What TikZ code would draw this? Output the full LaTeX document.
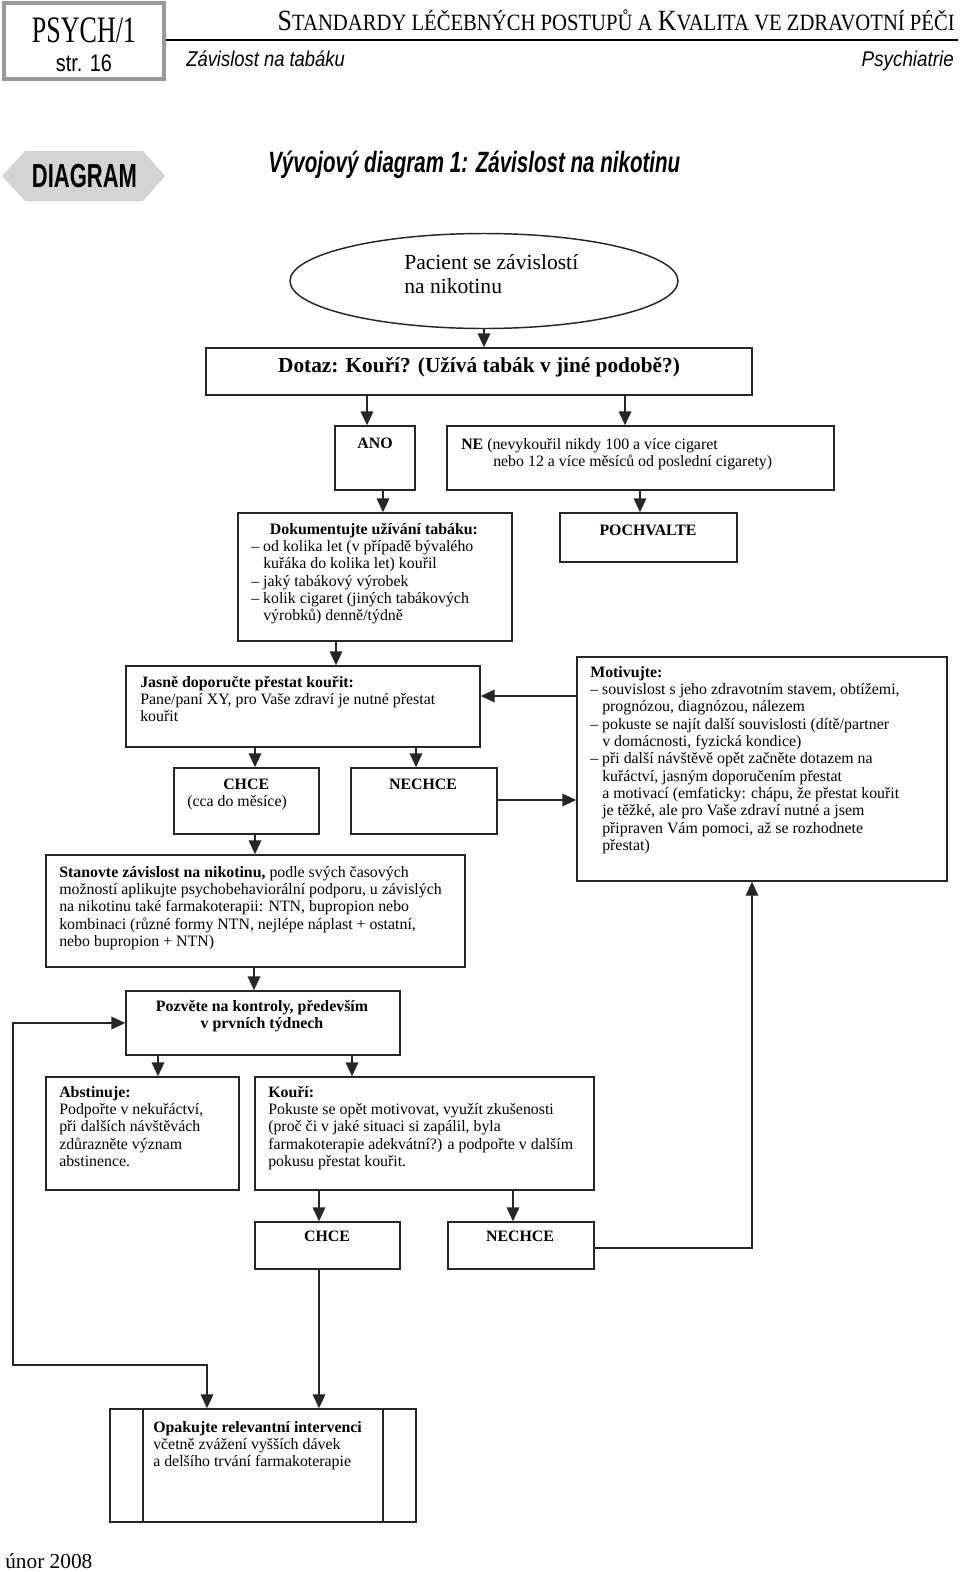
\documentclass[tikz,border=0pt]{standalone}
\usepackage{fontspec}
\usepackage{graphicx}
\setmainfont{Liberation Serif}
\newfontfamily\hsans{Liberation Sans}
\usetikzlibrary{arrows.meta,fit,shapes.geometric}
\newcommand\mylines[1]{\begin{tabular}[t]{@{}l@{}}#1\end{tabular}}
\newcommand\mylinesc[1]{\begin{tabular}[t]{@{}c@{}}#1\end{tabular}}
\newcommand\ind{\hspace*{9pt}}
\tikzset{
  box/.style={draw=black!85, line width=1.1pt, inner sep=0pt, rectangle},
  arr/.style={draw=black!85, line width=1.1pt, -{Triangle[length=10.5pt,width=9.5pt]}},
  arrboth/.style={draw=black!85, line width=1.1pt, {Triangle[length=10.5pt,width=9.5pt]}-{Triangle[length=10.5pt,width=9.5pt]}},
  txt/.style={inner sep=0pt, anchor=base west, font=\fontsize{11.9}{13}\selectfont},
  txtc/.style={inner sep=0pt, anchor=base, font=\fontsize{11.9}{13}\selectfont\bfseries},
}
\begin{document}
\begin{tikzpicture}[x=0.75pt,y=-0.75pt]
\useasboundingbox (0,0) rectangle (960,1572);
% ---------- header ----------
\node[draw=black!40, line width=2.4pt, inner sep=0pt, fit={(4,3) (164,79)}] (hdr) {};
\node[inner sep=0pt, anchor=base, font=\fontsize{28}{28}\selectfont] (psych) at (84,42) {\resizebox{78pt}{\height}{PSYCH/1}};
\node[inner sep=0pt, anchor=base, font=\hsans\fontsize{18}{18}\selectfont] (str) at (84,71) {\resizebox{42pt}{\height}{str. 16}};
\draw[black, line width=1.8pt] (166,40) -- (958,40);
\node[inner sep=0pt, anchor=base east] (htitle) at (955,30) {\resizebox{507.75pt}{\height}{{\fontsize{22}{22}\selectfont S}{\fontsize{17.5}{18}\selectfont TANDARDY LÉČEBNÝCH POSTUPŮ A }{\fontsize{22}{22}\selectfont K}{\fontsize{17.5}{18}\selectfont VALITA VE ZDRAVOTNÍ PÉČI}}};
\node[inner sep=0pt, anchor=base west, font=\hsans\itshape\fontsize{16}{16}\selectfont] (hsub) at (186,66) {\resizebox{119pt}{\height}{Závislost na tabáku}};
\node[inner sep=0pt, anchor=base east, font=\hsans\itshape\fontsize{16}{16}\selectfont] (hpsy) at (954,66) {\resizebox{69pt}{\height}{Psychiatrie}};
% DIAGRAM tag
\fill[black!17] (2,176) -- (25,151) -- (143,151) -- (165,176) -- (143,201) -- (25,201) -- cycle;
\node[inner sep=0pt, anchor=base, font=\hsans\bfseries\fontsize{25}{25}\selectfont] (diag) at (84.5,187) {\resizebox{78.75pt}{\height}{DIAGRAM}};
\node[inner sep=0pt, anchor=base west, font=\hsans\bfseries\itshape\fontsize{22}{22}\selectfont] (title) at (268,172) {\resizebox{309pt}{\height}{Vývojový diagram 1: Závislost na nikotinu}};
% ---------- column / row coordinates ----------
\coordinate (x13) at (13,0);
\coordinate (x158) at (158,0);
\coordinate (x207) at (207,0);
\coordinate (x254) at (254,0);
\coordinate (x255) at (255,0);
\coordinate (x319) at (319,0);
\coordinate (x336) at (336,0);
\coordinate (x352) at (352,0);
\coordinate (x367) at (367,0);
\coordinate (x383) at (383,0);
\coordinate (x416) at (416,0);
\coordinate (x513) at (513,0);
\coordinate (x625) at (625,0);
\coordinate (x640) at (640,0);
\coordinate (x752) at (752,0);
\coordinate (x143) at (143,0);
\coordinate (x383b) at (383,0);
\coordinate (y696) at (0,696);
\coordinate (y800) at (0,800);
\coordinate (y1023) at (0,1023);
\coordinate (y1248) at (0,1248);
\coordinate (y1365) at (0,1365);
% ---------- nodes ----------
\node[draw=black!85, line width=1.1pt, ellipse, inner sep=0pt, minimum width=291pt, minimum height=71.25pt] (ell) at (484,281) {};
\node[txt, font=\fontsize{16.2}{18}\selectfont] (tell) at (404,269) {\mylines{Pacient se závislostí\\na nikotinu}};
\node[box, fit={(206,348) (752,395)}] (dotaz) {};
\node[txtc, font=\fontsize{16}{16}\selectfont\bfseries] (tdotaz) at (479,372) {Dotaz: Kouří? (Užívá tabák v jiné podobě?)};
\node[box, fit={(335,426) (415,490)}] (ano) {};
\node[txtc] (tano) at (375,448) {ANO};
\node[box, fit={(447,426) (834,490)}] (ne) {};
\node[txt] (tne) at (461,449) {\mylines{\textbf{NE} (nevykouřil nikdy 100 a více cigaret\\\hspace*{24pt}nebo 12 a více měsíců od poslední cigarety)}};
\node[box, fit={(238,513) (512,641)}] (dok) {};
\node[txt] (tdok) at (251,534) {\mylines{\hspace*{14pt}\textbf{Dokumentujte užívání tabáku:}\\– od kolika let (v případě bývalého\\\ind kuřáka do kolika let) kouřil\\– jaký tabákový výrobek\\– kolik cigaret (jiných tabákových\\\ind výrobků) denně/týdně}};
\node[box, fit={(560,513) (737,562)}] (poch) {};
\node[txtc] (tpoch) at (648,535) {POCHVALTE};
\node[box, fit={(126,666) (480,747)}] (jas) {};
\node[txt] (tjas) at (140,687) {\mylines{\textbf{Jasně doporučte přestat kouřit:}\\Pane/paní XY, pro Vaše zdraví je nutné přestat\\kouřit}};
\node[box, fit={(174,768) (319,834)}] (chce1) {};
\node[txt] (tchce1) at (187,789) {\mylines{\hspace*{27pt}\textbf{CHCE}\\(cca do měsíce)}};
\node[box, fit={(351,768) (497,834)}] (nech1) {};
\node[txtc] (tnech1) at (423,789) {NECHCE};
\node[box, fit={(577,657) (947,881)}] (mot) {};
\node[txt] (tmot) at (590,677) {\mylines{\textbf{Motivujte:}\\– souvislost s jeho zdravotním stavem, obtížemi,\\\ind prognózou, diagnózou, nálezem\\– pokuste se najít další souvislosti (dítě/partner\\\ind v domácnosti, fyzická kondice)\\– při další návštěvě opět začněte dotazem na\\\ind kuřáctví, jasným doporučením přestat\\\ind a motivací (emfaticky: chápu, že přestat kouřit\\\ind je těžké, ale pro Vaše zdraví nutné a jsem\\\ind připraven Vám pomoci, až se rozhodnete\\\ind přestat)}};
\node[box, fit={(46,855) (465,967)}] (stan) {};
\node[txt] (tstan) at (59,877) {\mylines{\textbf{Stanovte závislost na nikotinu,} podle svých časových\\možností aplikujte psychobehaviorální podporu, u závislých\\na nikotinu také farmakoterapii: NTN, bupropion nebo\\kombinaci (různé formy NTN, nejlépe náplast + ostatní,\\nebo bupropion + NTN)}};
\node[box, fit={(126,991) (400,1055)}] (poz) {};
\node[txtc] (tpoz) at (262,1011) {\mylinesc{Pozvěte na kontroly, především\\v prvních týdnech}};
\node[box, fit={(46,1077) (239,1190)}] (abst) {};
\node[txt] (tabst) at (59,1097) {\mylines{\textbf{Abstinuje:}\\Podpořte v nekuřáctví,\\při dalších návštěvách\\zdůrazněte význam\\abstinence.}};
\node[box, fit={(255,1077) (594,1190)}] (kouri) {};
\node[txt] (tkouri) at (268,1097) {\mylines{\textbf{Kouří:}\\Pokuste se opět motivovat, využít zkušenosti\\(proč či v jaké situaci si zapálil, byla\\farmakoterapie adekvátní?) a podpořte v dalším\\pokusu přestat kouřit.}};
\node[box, fit={(255,1222) (400,1269)}] (chce2) {};
\node[txtc] (tchce2) at (327,1241) {CHCE};
\node[box, fit={(448,1222) (594,1269)}] (nech2) {};
\node[txtc] (tnech2) at (520,1241) {NECHCE};
\node[box, fit={(110,1409) (416,1522)}] (opak) {};
\draw[black!85, line width=1.1pt] (opak.north -| x143) -- (opak.south -| x143);
\draw[black!85, line width=1.1pt] (opak.north -| x383b) -- (opak.south -| x383b);
\node[txt] (topak) at (153,1432) {\mylines{\textbf{Opakujte relevantní intervenci}\\včetně zvážení vyšších dávek\\a delšího trvání farmakoterapie}};
\node[inner sep=0pt, anchor=base west, font=\fontsize{16}{16}\selectfont] (foot) at (5,1568) {únor 2008};
% ---------- connectors ----------
\draw[arr] (ell.south) -- (ell.south |- dotaz.north);
\draw[arr] (dotaz.south -| x367) -- (ano.north -| x367);
\draw[arr] (dotaz.south -| x625) -- (ne.north -| x625);
\draw[arr] (ano.south -| x383) -- (dok.north -| x383);
\draw[arr] (ne.south -| x640) -- (poch.north -| x640);
\draw[arr] (dok.south -| x336) -- (jas.north -| x336);
\draw[arr] (jas.south -| x255) -- (chce1.north -| x255);
\draw[arr] (jas.south -| x416) -- (nech1.north -| x416);
\draw[arr] (nech1.east |- y800) -- (mot.west |- y800);
\draw[arr] (mot.west |- y696) -- (jas.east |- y696);
\draw[arr] (chce1.south -| x255) -- (stan.north -| x255);
\draw[arr] (stan.south -| x254) -- (poz.north -| x254);
\draw[arr] (poz.south -| x158) -- (abst.north -| x158);
\draw[arr] (poz.south -| x352) -- (kouri.north -| x352);
\draw[arr] (kouri.south -| x319) -- (chce2.north -| x319);
\draw[arr] (kouri.south -| x513) -- (nech2.north -| x513);
\draw[arr] (nech2.east |- y1248) -- (x752 |- y1248) -- (mot.south -| x752);
\draw[arr] (chce2.south -| x319) -- (opak.north -| x319);
\draw[arrboth] (opak.north -| x207) -- (x207 |- y1365) -- (x13 |- y1365) -- (x13 |- y1023) -- (poz.west |- y1023);
\end{tikzpicture}
\end{document}
